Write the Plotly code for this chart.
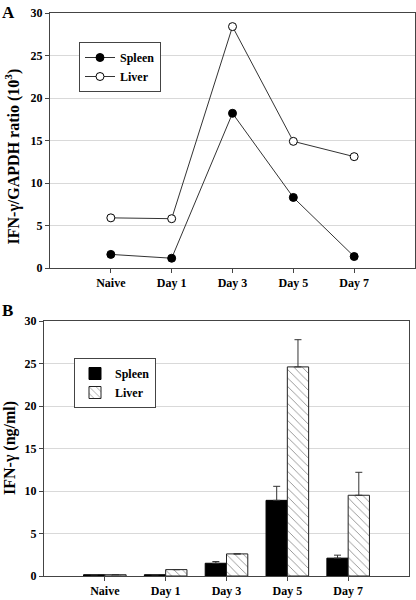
import plotly.graph_objects as go

categories = ["Naive", "Day 1", "Day 3", "Day 5", "Day 7"]

# Panel A: IFN-gamma/GAPDH ratio (10^3)
spleen_ratio = [1.6, 1.15, 18.2, 8.3, 1.35]
liver_ratio = [5.9, 5.8, 28.4, 14.9, 13.1]

# Panel B: IFN-gamma (ng/ml)
spleen_ifn = [0.15, 0.15, 1.5, 8.9, 2.1]
spleen_err = [0.0, 0.0, 0.2, 1.65, 0.35]
liver_ifn = [0.15, 0.75, 2.6, 24.6, 9.5]
liver_err = [0.0, 0.0, 0.0, 3.2, 2.7]

title_a = "IFN-γ/GAPDH ratio (10<sup>3</sup>)"
title_b = "IFN-γ (ng/ml)"

W, H = 416, 600
FONT = "Liberation Serif"
AX = "#444444"
GRID = "#d9d9d9"

fig = go.Figure()

# Panel A traces
fig.add_trace(go.Scatter(
    x=categories, y=spleen_ratio, name="Spleen", mode="lines+markers",
    line=dict(color="#333333", width=1),
    marker=dict(symbol="circle", size=8, color="black", line=dict(color="black", width=1)),
    xaxis="x", yaxis="y", legend="legend"))
fig.add_trace(go.Scatter(
    x=categories, y=liver_ratio, name="Liver", mode="lines+markers",
    line=dict(color="#333333", width=1),
    marker=dict(symbol="circle", size=8, color="white", line=dict(color="black", width=1)),
    xaxis="x", yaxis="y", legend="legend"))

# Panel B traces
fig.add_trace(go.Bar(
    x=categories, y=spleen_ifn, name="Spleen",
    marker=dict(color="black", line=dict(color="black", width=1)),
    error_y=dict(type="data", array=spleen_err, arrayminus=[0]*5, symmetric=False,
                 color="#333333", thickness=1, width=3.5),
    xaxis="x2", yaxis="y2", legend="legend2"))
fig.add_trace(go.Bar(
    x=categories, y=liver_ifn, name="Liver",
    marker=dict(color="white", line=dict(color="#222222", width=1),
                pattern=dict(shape="\\", fgcolor="#222222", bgcolor="white", size=6, solidity=0.15)),
    error_y=dict(type="data", array=liver_err, arrayminus=[0]*5, symmetric=False,
                 color="#333333", thickness=1, width=3.5),
    xaxis="x2", yaxis="y2", legend="legend2"))

TICKFONT = dict(size=12, family=FONT, color="black", weight="bold")
TITLEFONT = dict(size=16, family=FONT, color="black", weight="bold")

def xax(domain, anchor):
    return dict(domain=domain, anchor=anchor, type="category", range=[-1, 5],
                automargin=False,
                showline=True, linecolor=AX, linewidth=1, mirror=True,
                ticks="outside", ticklen=4, tickcolor=AX, showgrid=False,
                tickfont=TICKFONT)

def yax(domain, anchor):
    return dict(domain=domain, anchor=anchor, range=[0, 30], dtick=5,
                automargin=False,
                showline=True, linecolor=AX, linewidth=1, mirror=True,
                ticks="outside", ticklen=4, tickcolor=AX,
                showgrid=True, gridcolor=GRID, gridwidth=1, zeroline=False,
                tickfont=TICKFONT)

legend_style = dict(xanchor="left", yanchor="top",
                    bordercolor="#444444", borderwidth=1, bgcolor="white",
                    font=dict(size=12, family=FONT, color="black", weight="bold"),
                    tracegroupgap=0, itemwidth=30)

fig.update_layout(
    width=W, height=H,
    margin=dict(l=0, r=0, t=0, b=0, autoexpand=False),
    paper_bgcolor="white", plot_bgcolor="white",
    font=dict(family=FONT, size=12, color="black", weight="bold"),
    barmode="group", bargap=0.3, bargroupgap=0,
    xaxis=xax([50/W, 415/W], "y"),
    yaxis=yax([1-268/H, 1-13/H], "x"),
    xaxis2=xax([44/W, 409/W], "y2"),
    yaxis2=yax([1-576/H, 1-321/H], "x2"),
    legend=dict(x=79/W, y=1-42/H, **legend_style),
    legend2=dict(x=74/W, y=1-358/H, **legend_style),
    annotations=[
        dict(text="A", x=0, y=1-1/H, xref="paper", yref="paper", xanchor="left", yanchor="top",
             showarrow=False, font=dict(size=17, family=FONT, color="black", weight="bold")),
        dict(text="B", x=0, y=1-299/H, xref="paper", yref="paper", xanchor="left", yanchor="top",
             showarrow=False, font=dict(size=17, family=FONT, color="black", weight="bold")),
        dict(text=title_a, x=12.5/W, y=1-157/H, xref="paper", yref="paper",
             xanchor="center", yanchor="middle", textangle=-90, showarrow=False, font=TITLEFONT),
        dict(text=title_b, x=10/W, y=1-448/H, xref="paper", yref="paper",
             xanchor="center", yanchor="middle", textangle=-90, showarrow=False, font=TITLEFONT),
    ],
)

fig.write_html("out.html", config={"displayModeBar": False},
               post_script="document.body.style.margin='0';")
